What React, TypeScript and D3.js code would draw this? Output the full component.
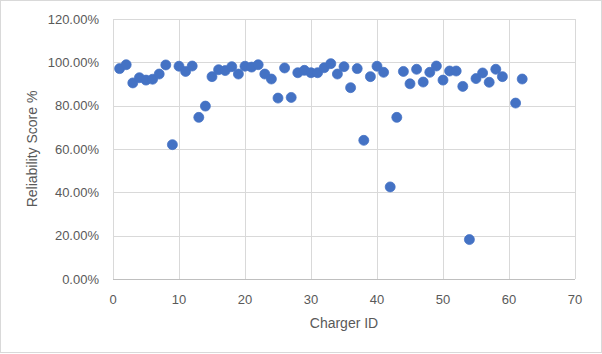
import * as d3 from "d3";

// Charger IDs and their reliability scores (%)
const CHARGER_IDS = [
  1, 2, 3, 4, 5, 6, 7, 8, 9, 10, 11, 12, 13, 14, 15, 16, 17, 18, 19, 20,
  21, 22, 23, 24, 25, 26, 27, 28, 29, 30, 31, 32, 33, 34, 35, 36, 37, 38, 39, 40,
  41, 42, 43, 44, 45, 46, 47, 48, 49, 50, 51, 52, 53, 54, 55, 56, 57, 58, 59, 61, 62,
];
const SCORES = [
  97.1, 98.9, 90.5, 92.9, 91.8, 92.2, 94.6, 98.8, 62.0, 98.2, 95.8, 98.3, 74.6, 79.8, 93.4, 96.6, 96.2, 98.0, 94.6, 98.2,
  97.8, 98.9, 94.6, 92.3, 83.5, 97.4, 83.8, 95.2, 96.3, 95.2, 95.2, 97.5, 99.4, 94.6, 98.0, 88.3, 97.1, 64.0, 93.4, 98.2,
  95.4, 42.5, 74.6, 95.8, 90.1, 96.8, 90.9, 95.4, 98.3, 91.8, 96.0, 96.0, 88.9, 18.2, 92.5, 95.1, 90.8, 96.8, 93.4, 81.2, 92.3,
];
const X_TICKS = [0, 10, 20, 30, 40, 50, 60, 70];
const Y_TICKS = [0, 20, 40, 60, 80, 100, 120];

const W = 602;
const H = 354;
const FONT = "'Liberation Sans', Arial, sans-serif";

export default function App() {
  const x = d3.scaleLinear().domain([0, 70]).range([113, 575]);
  const y = d3.scaleLinear().domain([0, 120]).range([279, 19]);
  const pts = CHARGER_IDS.map((id, i) => ({ id, v: SCORES[i] }));

  return (
    <svg width={W} height={H} style={{ position: "absolute", left: 0, top: 0, background: "#fff" }}>
      <rect x={0.5} y={0.5} width={W - 1} height={H - 2} fill="#fff" stroke="#d9d9d9" />

      {/* grid */}
      {Y_TICKS.map(t => (
        <line key={"gy" + t} x1={x(0)} x2={x(70)} y1={Math.round(y(t)) + 0.5} y2={Math.round(y(t)) + 0.5}
          stroke={t === 0 ? "#bfbfbf" : "#d9d9d9"} strokeWidth={1} />
      ))}
      {X_TICKS.map(t => (
        <line key={"gx" + t} x1={Math.round(x(t)) + 0.5} x2={Math.round(x(t)) + 0.5} y1={y(120)} y2={y(0)}
          stroke="#d9d9d9" strokeWidth={1} />
      ))}

      {/* tick labels */}
      {Y_TICKS.map(t => (
        <text key={"ly" + t} x={99} y={y(t)} dy="0.35em" textAnchor="end" fontFamily={FONT} fontSize={13} fill="#595959">
          {d3.format(".2f")(t) + "%"}
        </text>
      ))}
      {X_TICKS.map(t => (
        <text key={"lx" + t} x={x(t)} y={304} textAnchor="middle" fontFamily={FONT} fontSize={13} fill="#595959">
          {t}
        </text>
      ))}

      {/* axis titles */}
      <text transform={`translate(37,${(y(0) + y(120)) / 2}) rotate(-90)`} textAnchor="middle"
        fontFamily={FONT} fontSize={14} fill="#595959">
        Reliability Score %
      </text>
      <text x={(x(0) + x(70)) / 2} y={328} textAnchor="middle" fontFamily={FONT} fontSize={14} fill="#595959">
        Charger ID
      </text>

      {/* points */}
      {pts.map(p => (
        <circle key={p.id} cx={x(p.id)} cy={y(p.v)} r={5} fill="#4472c4" stroke="#4472c4" strokeWidth={0.75} />
      ))}
    </svg>
  );
}
